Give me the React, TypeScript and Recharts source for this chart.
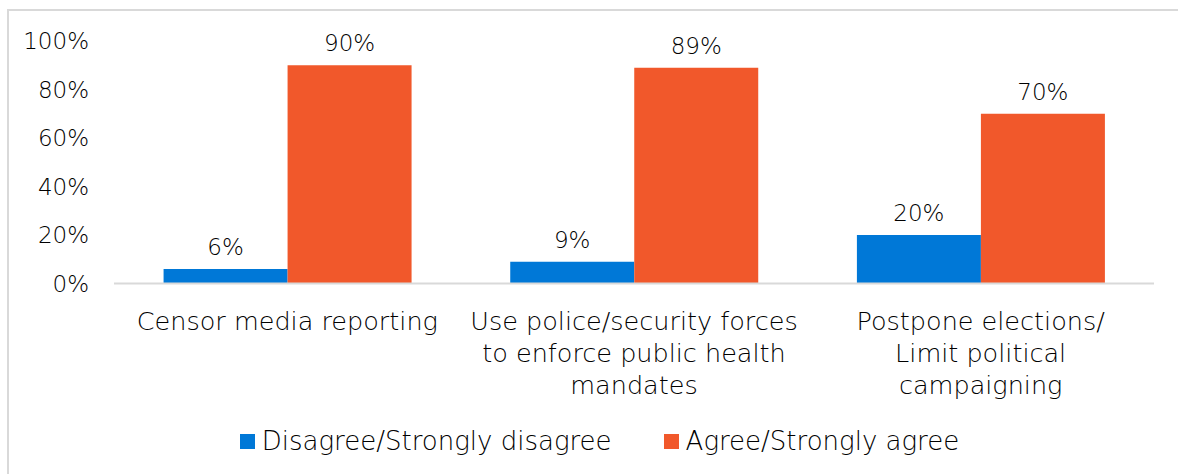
import { BarChart, Bar, XAxis, YAxis, Legend, LabelList } from 'recharts';

const categories = [
  'Censor media reporting',
  'Use police/security forces\nto enforce public health\nmandates',
  'Postpone elections/\nLimit political\ncampaigning',
];
const disagree = [6, 9, 20];
const agree = [90, 89, 70];
const yTicks = [0, 20, 40, 60, 80, 100];

const seriesNames = ['Disagree/Strongly disagree', 'Agree/Strongly agree'];
const seriesColors = ['#0078d7', '#f1582b'];

const FONT = '"DejaVu Sans", sans-serif';
const TEXT = '#000';
const WEIGHT = 300;

const data = categories.map((name, i) => ({
  name,
  disagree: disagree[i],
  agree: agree[i],
}));

function CategoryTick({ x, y, payload }: any) {
  const lines = String(payload.value).split('\n');
  return (
    <text
      x={x}
      y={y + 38}
      textAnchor="middle"
      fill={TEXT}
      fontSize={25.5}
      fontFamily={FONT}
      fontWeight={WEIGHT}
    >
      {lines.map((line, i) => (
        <tspan key={i} x={x} dy={i === 0 ? 0 : 32}>
          {line}
        </tspan>
      ))}
    </text>
  );
}

function LegendBox() {
  return (
    <div
      style={{
        height: 40,
        display: 'flex',
        alignItems: 'center',
        justifyContent: 'center',
        gap: 52,
        paddingLeft: 26,
        fontFamily: FONT,
        fontWeight: WEIGHT,
        fontSize: 26,
        color: TEXT,
      }}
    >
      {seriesNames.map((n, i) => (
        <div key={n} style={{ display: 'flex', alignItems: 'center' }}>
          <span style={{ width: 15, height: 15, background: seriesColors[i], marginRight: 7 }} />
          <span>{n}</span>
        </div>
      ))}
    </div>
  );
}

export default function App() {
  return (
    <>
      <style>{'body{margin:0;overflow:hidden;background:#fff}'}</style>
      <div
        style={{
          position: 'absolute',
          left: 7,
          top: 9,
          width: 1171,
          height: 465,
          borderLeft: '2px solid #d9d9d9',
          borderTop: '2px solid #d9d9d9',
          boxSizing: 'border-box',
        }}
      >
        <BarChart
          width={1169}
          height={463}
          data={data}
          margin={{ top: 30, right: 24, left: 10, bottom: 13 }}
          barCategoryGap="14.3%"
          barGap={0}
        >
          <XAxis
            dataKey="name"
            interval={0}
            height={137.5}
            tickLine={false}
            axisLine={{ stroke: '#d9d9d9', strokeWidth: 2 }}
            tick={<CategoryTick />}
          />
          <YAxis
            domain={[0, 100]}
            ticks={yTicks}
            width={95}
            axisLine={false}
            tickLine={false}
            tickMargin={19}
            tickFormatter={(v) => `${v}%`}
            tick={{ fill: TEXT, fontSize: 23, fontFamily: FONT, fontWeight: WEIGHT }}
          />
          <Legend verticalAlign="bottom" content={<LegendBox />} wrapperStyle={{ height: 40 }} />
          <Bar dataKey="disagree" fill={seriesColors[0]} isAnimationActive={false}>
            <LabelList
              dataKey="disagree"
              position="top"
              offset={14}
              formatter={(v: any) => `${v}%`}
              fill={TEXT}
              fontSize={23}
              fontFamily={FONT}
              fontWeight={WEIGHT}
            />
          </Bar>
          <Bar dataKey="agree" fill={seriesColors[1]} isAnimationActive={false}>
            <LabelList
              dataKey="agree"
              position="top"
              offset={14}
              formatter={(v: any) => `${v}%`}
              fill={TEXT}
              fontSize={23}
              fontFamily={FONT}
              fontWeight={WEIGHT}
            />
          </Bar>
        </BarChart>
      </div>
    </>
  );
}
